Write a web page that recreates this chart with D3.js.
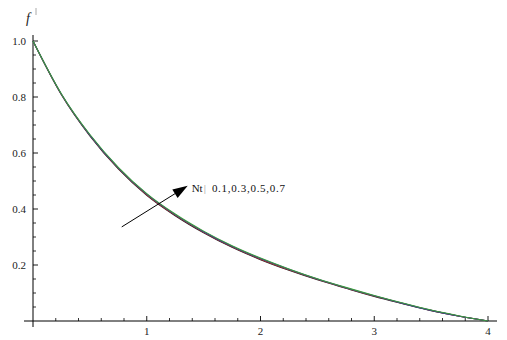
<!DOCTYPE html>
<html>
<head>
<meta charset="utf-8">
<script src="https://cdn.jsdelivr.net/npm/d3@7"></script>
<style>
  body { margin: 0; background: #fff; }
  svg text { font-family: "Liberation Serif", "DejaVu Serif", serif; }
</style>
</head>
<body>
<div id="chart"></div>
<script>
const eta = [0, 0.25, 0.5, 0.75, 1, 1.25, 1.5, 1.75, 2, 2.25, 2.5, 2.75, 3, 3.25, 3.5, 3.75, 4];
const ntValues = [0.1, 0.3, 0.5, 0.7];
const fNt01 = [1.000, 0.808, 0.661, 0.543, 0.449, 0.376, 0.315, 0.263, 0.219, 0.181, 0.147, 0.117, 0.088, 0.062, 0.037, 0.017, 0.000];
const fNt03 = [1.000, 0.809, 0.663, 0.545, 0.451, 0.378, 0.317, 0.265, 0.221, 0.183, 0.149, 0.118, 0.089, 0.063, 0.038, 0.017, 0.000];
const fNt05 = [1.000, 0.810, 0.664, 0.547, 0.453, 0.380, 0.319, 0.267, 0.223, 0.185, 0.150, 0.119, 0.090, 0.063, 0.038, 0.017, 0.000];
const fNt07 = [1.000, 0.811, 0.666, 0.549, 0.455, 0.382, 0.321, 0.269, 0.225, 0.186, 0.151, 0.120, 0.091, 0.064, 0.039, 0.018, 0.000];
const seriesList = [fNt01, fNt03, fNt05, fNt07];
const colors = ['#222222', '#b03030', '#3040a0', '#3d9a3d'];
const xTicks = [1, 2, 3, 4];
const yTicks = [0.2, 0.4, 0.6, 0.8, 1.0];

const w = 507, h = 340;
const svg = d3.select('#chart').append('svg').attr('width', w).attr('height', h);

const x = d3.scaleLinear().domain([0, 4]).range([33, 488]);
const y = d3.scaleLinear().domain([0, 1]).range([321, 41]);

// axes lines, crossing at the origin
svg.append('line').attr('x1', 24).attr('x2', 497).attr('y1', y(0)).attr('y2', y(0))
  .attr('stroke', '#000').attr('stroke-width', 1);
svg.append('line').attr('x1', x(0)).attr('x2', x(0)).attr('y1', 35).attr('y2', 327)
  .attr('stroke', '#000').attr('stroke-width', 1);

// x ticks
const xMinor = d3.range(0.2, 4.01, 0.2).filter(v => Math.abs(v - Math.round(v)) > 0.01);
svg.selectAll('.xminor').data(xMinor).enter().append('line')
  .attr('x1', d => x(d)).attr('x2', d => x(d)).attr('y1', y(0)).attr('y2', y(0) - 3)
  .attr('stroke', '#000').attr('stroke-width', 0.8);
svg.selectAll('.xmajor').data(xTicks).enter().append('line')
  .attr('x1', d => x(d)).attr('x2', d => x(d)).attr('y1', y(0)).attr('y2', y(0) - 5)
  .attr('stroke', '#000').attr('stroke-width', 0.9);
svg.selectAll('.xlab').data(xTicks).enter().append('text')
  .attr('x', d => x(d)).attr('y', y(0) + 14).attr('text-anchor', 'middle')
  .attr('font-size', 11).attr('fill', '#222').text(d => d);

// y ticks
const yMinor = d3.range(0.05, 1.001, 0.05).filter(v => Math.abs(v * 5 - Math.round(v * 5)) > 0.01);
svg.selectAll('.yminor').data(yMinor).enter().append('line')
  .attr('x1', x(0)).attr('x2', x(0) + 3).attr('y1', d => y(d)).attr('y2', d => y(d))
  .attr('stroke', '#000').attr('stroke-width', 0.8);
svg.selectAll('.ymajor').data(yTicks).enter().append('line')
  .attr('x1', x(0)).attr('x2', x(0) + 5).attr('y1', d => y(d)).attr('y2', d => y(d))
  .attr('stroke', '#000').attr('stroke-width', 0.9);
svg.selectAll('.ylab').data(yTicks).enter().append('text')
  .attr('x', x(0) - 7).attr('y', d => y(d) + 4).attr('text-anchor', 'end')
  .attr('font-size', 11).attr('fill', '#222').text(d => d.toFixed(1));

// axis label f'
svg.append('text').attr('x', 26).attr('y', 23).attr('font-size', 14)
  .attr('font-style', 'italic').attr('fill', '#222').text('f');
svg.append('line').attr('x1', 36).attr('x2', 36).attr('y1', 8).attr('y2', 15)
  .attr('stroke', '#aaa').attr('stroke-width', 1);

// curves
const line = d3.line().x((d, i) => x(eta[i])).y(d => y(d)).curve(d3.curveMonotoneX);
seriesList.forEach((s, k) => {
  svg.append('path').datum(s).attr('d', line)
    .attr('fill', 'none').attr('stroke', colors[k]).attr('stroke-width', 1.1);
});

// arrow
const a0 = [0.78, 0.336], a1 = [1.36, 0.483];
const px0 = x(a0[0]), py0 = y(a0[1]), px1 = x(a1[0]), py1 = y(a1[1]);
const ang = Math.atan2(py1 - py0, px1 - px0);
const headLen = 15, headW = 5;
const bx = px1 - headLen * Math.cos(ang), by = py1 - headLen * Math.sin(ang);
svg.append('line').attr('x1', px0).attr('y1', py0).attr('x2', bx).attr('y2', by)
  .attr('stroke', '#000').attr('stroke-width', 1);
svg.append('polygon')
  .attr('points', [
    [px1, py1],
    [bx + headW * Math.sin(ang), by - headW * Math.cos(ang)],
    [bx - headW * Math.sin(ang), by + headW * Math.cos(ang)]
  ].map(p => p.join(',')).join(' '))
  .attr('fill', '#000');

const lab = svg.append('text').attr('x', x(1.395)).attr('y', y(0.46)).attr('font-size', 11).attr('fill', '#111');
lab.append('tspan').text('Nt');
lab.append('tspan').attr('dx', 1).attr('fill', '#999').text('|');
lab.append('tspan').attr('dx', 6).attr('letter-spacing', 0.7).text(ntValues.join(','));
</script>
</body>
</html>
